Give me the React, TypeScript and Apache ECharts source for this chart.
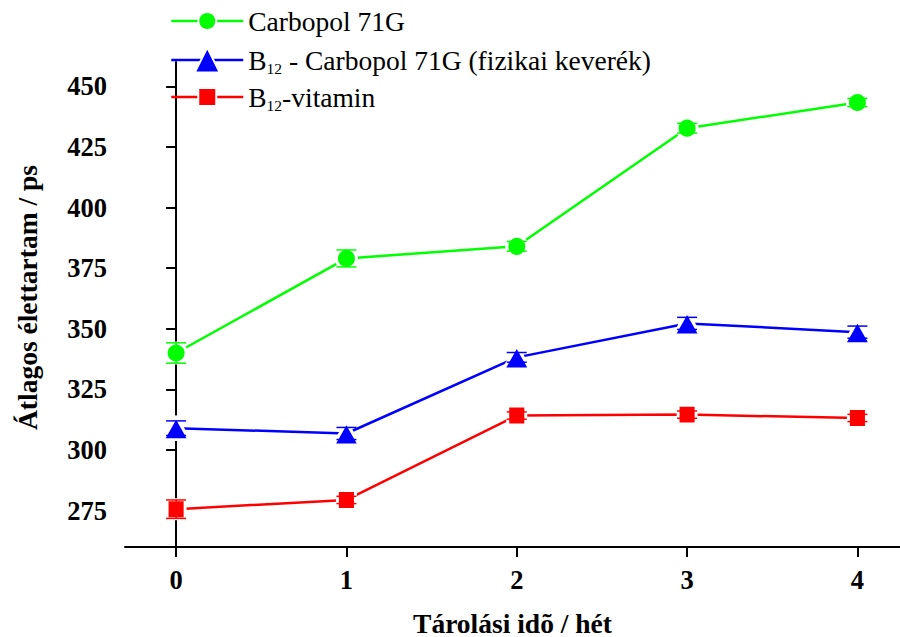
import React, { useEffect, useRef } from "react";
import * as echarts from "echarts";

const weeks = [0, 1, 2, 3, 4];
const xTicks = [0, 1, 2, 3, 4];
const yTicks = [275, 300, 325, 350, 375, 400, 425, 450];

const carbopolName = "Carbopol 71G";
const mixtureName = "B12 - Carbopol 71G (fizikai keverék)";
const vitaminName = "B12-vitamin";

const carbopol = [340, 379, 384, 432.7, 443.3];
const carbopolErr = [4.2, 3.5, 2, 2, 1.7];
const mixture = [309, 306.8, 338.2, 352.2, 348.6];
const mixtureErr = [3, 2.5, 2, 2.5, 2.5];
const vitamin = [275.6, 279.4, 314.2, 314.6, 313.2];
const vitaminErr = [3.8, 1.5, 1.5, 1.5, 1.5];

const FONT = "'Liberation Serif', 'Times New Roman', serif";

function errData(vals: number[], errs: number[]) {
  return weeks.map((w, i) => [w, vals[i] - errs[i], vals[i] + errs[i]]);
}

function errSeries(name: string, vals: number[], errs: number[], color: string) {
  return {
    type: "custom",
    name: name + " err",
    z: 5,
    data: errData(vals, errs),
    encode: { x: 0, y: [1, 2] },
    renderItem: (params: any, api: any) => {
      const x = api.value(0);
      const lo = api.value(1);
      const hi = api.value(2);
      const top = api.coord([x, hi]);
      const bot = api.coord([x, lo]);
      const hw = 10;
      const st = { stroke: color, lineWidth: 1.5 };
      return {
        type: "group",
        children: [
          { type: "line", shape: { x1: top[0], y1: top[1], x2: bot[0], y2: bot[1] }, style: st },
          { type: "line", shape: { x1: top[0] - hw, y1: top[1], x2: top[0] + hw, y2: top[1] }, style: st },
          { type: "line", shape: { x1: bot[0] - hw, y1: bot[1], x2: bot[0] + hw, y2: bot[1] }, style: st },
        ],
      };
    },
  };
}

function lineSeries(name: string, vals: number[], color: string, symbol: string, size: any) {
  return {
    type: "line",
    name,
    z: 3,
    data: weeks.map((w, i) => [w, vals[i]]),
    symbol,
    symbolSize: size,
    showAllSymbol: true,
    lineStyle: { color, width: 2.5 },
    itemStyle: { color, borderColor: "#ffffff", borderWidth: 3, borderJoin: "round" },
  };
}

const legendText = {
  fontFamily: FONT,
  fontSize: 27.5,
  color: "#000",
  lineHeight: 32,
  rich: {
    m: { fontFamily: FONT, fontSize: 27.5, color: "#000", lineHeight: 32 },
    sub: { fontFamily: FONT, fontSize: 15.5, verticalAlign: "bottom", lineHeight: 29, color: "#000" },
  },
};

function legendFormatter(name: string) {
  if (name.startsWith("B12")) return "{m|B}{sub|12}{m|" + name.slice(3) + "}";
  return "{m|" + name + "}";
}

function makeLegend(name: string, top: number, itemHeight: number) {
  return {
    data: [name],
    left: 170,
    top,
    orient: "vertical",
    itemWidth: 72,
    itemHeight,
    itemGap: 5,
    padding: 0,
    formatter: legendFormatter,
    textStyle: legendText,
    lineStyle: { width: 2.5 },
    selectedMode: false,
  };
}

export default function App() {
  const ref = useRef<HTMLDivElement>(null);
  useEffect(() => {
    if (!ref.current) return;
    const chart = echarts.init(ref.current, null, { renderer: "svg" });
    const axisLine = { show: true, lineStyle: { color: "#000", width: 2 } };
    const titleStyle = { fontFamily: FONT, fontSize: 27.5, fontWeight: "bold", color: "#000" };
    const tickLabel = { fontFamily: FONT, fontSize: 26.5, fontWeight: "bold", color: "#000" };
    chart.setOption({
      animation: false,
      backgroundColor: "#fff",
      textStyle: { fontFamily: FONT },
      legend: [
        makeLegend(carbopolName, 5, 22.5),
        makeLegend(mixtureName, 44, 31),
        makeLegend(vitaminName, 81, 22.5),
      ],
      grid: { left: 125, right: 0, top: 62, bottom: 90, containLabel: false, outerBoundsMode: "none" },
      xAxis: {
        type: "value",
        min: -0.3,
        max: 4.25,
        name: "Tárolási idõ / hét",
        nameLocation: "middle",
        nameGap: 62,
        nameTextStyle: titleStyle,
        axisLine,
        axisTick: { show: true, inside: false, length: 10, lineStyle: { color: "#000", width: 2 }, customValues: xTicks },
        axisLabel: { customValues: xTicks, margin: 19, ...tickLabel },
        splitLine: { show: false },
      },
      yAxis: {
        type: "value",
        min: 260,
        max: 460,
        name: "Átlagos élettartam / ps",
        nameLocation: "middle",
        nameGap: 84,
        nameTextStyle: { ...titleStyle, padding: [0, 0, 0, 14] },
        axisLine,
        axisTick: { show: true, inside: false, length: 10, lineStyle: { color: "#000", width: 2 }, customValues: yTicks },
        axisLabel: { customValues: yTicks, margin: 18, ...tickLabel },
        splitLine: { show: false },
      },
      series: [
        lineSeries(carbopolName, carbopol, "#00ff00", "circle", 20),
        lineSeries(mixtureName, mixture, "#0000ff", "triangle", [26, 23]),
        lineSeries(vitaminName, vitamin, "#ff0000", "rect", [18, 19]),
        errSeries(carbopolName, carbopol, carbopolErr, "#00ff00"),
        errSeries(mixtureName, mixture, mixtureErr, "#0000ff"),
        errSeries(vitaminName, vitamin, vitaminErr, "#ff0000"),
      ],
    });
    return () => chart.dispose();
  }, []);
  return <div ref={ref} style={{ position: "absolute", left: 0, top: 0, width: 900, height: 637 }} />;
}
